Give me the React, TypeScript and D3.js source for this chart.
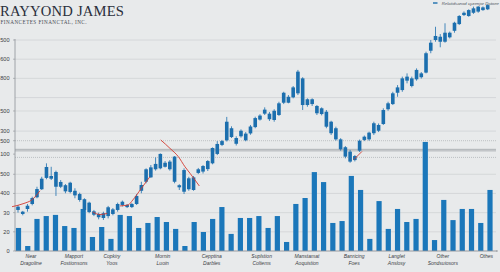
import React from "react";
import * as d3 from "d3";

const W = 500;
const H = 272;

// Candles: [open, high, low, close]
const candleOHLC: [number, number, number, number][] = [
  [214, 240, 200, 231], [205, 209, 186, 193], [219, 245, 205, 236], [245, 283, 238, 276],
  [280, 335, 275, 323], [322, 387, 318, 377], [381, 457, 374, 438], [391, 439, 370, 377],
  [412, 419, 287, 335], [335, 370, 328, 360], [343, 349, 301, 311], [308, 361, 301, 356],
  [314, 327, 275, 290], [297, 304, 257, 266], [270, 275, 205, 214], [252, 257, 197, 203],
  [207, 214, 182, 189], [193, 200, 165, 176], [172, 205, 162, 197], [182, 235, 170, 228],
  [217, 224, 186, 193], [214, 252, 205, 245], [240, 263, 232, 257], [240, 245, 224, 229],
  [229, 250, 224, 245], [245, 297, 240, 287], [314, 361, 301, 344], [361, 431, 353, 426],
  [384, 448, 381, 436], [426, 488, 419, 454], [431, 509, 426, 506], [460, 469, 435, 439],
  [426, 474, 419, 466], [492, 495, 353, 361], [343, 348, 318, 332], [309, 431, 297, 422],
  [379, 387, 314, 322], [318, 391, 314, 384], [407, 433, 401, 426], [414, 448, 404, 443],
  [427, 474, 417, 469], [457, 540, 452, 537], [506, 573, 500, 558], [553, 579, 547, 573],
  [577, 699, 571, 674], [640, 650, 589, 594], [589, 598, 550, 559], [598, 634, 591, 627],
  [612, 620, 572, 577], [613, 657, 606, 649], [646, 700, 640, 693], [685, 713, 680, 706],
  [716, 749, 709, 737], [716, 725, 678, 687], [683, 739, 674, 731], [709, 778, 704, 770],
  [773, 830, 766, 825], [804, 813, 770, 773], [801, 860, 796, 853], [822, 944, 813, 935],
  [900, 906, 735, 761], [791, 796, 752, 761], [766, 796, 756, 791], [756, 761, 709, 718],
  [744, 749, 707, 714], [726, 735, 640, 648], [674, 679, 605, 614], [640, 648, 575, 582],
  [582, 588, 523, 530], [541, 547, 483, 492], [518, 527, 460, 466], [474, 500, 467, 495],
  [523, 581, 516, 575], [579, 602, 573, 596], [582, 622, 575, 617], [614, 674, 605, 666],
  [657, 665, 620, 627], [662, 744, 657, 735], [739, 778, 731, 770], [766, 830, 761, 822],
  [825, 865, 804, 853], [839, 909, 830, 900], [888, 926, 874, 909], [900, 909, 853, 860],
  [895, 952, 888, 944], [926, 933, 899, 906], [930, 1039, 926, 1031], [1044, 1100, 1031, 1086],
  [1100, 1169, 1091, 1121], [1117, 1131, 1062, 1091], [1091, 1187, 1086, 1138], [1138, 1144, 1108, 1114],
  [1148, 1195, 1138, 1190], [1183, 1230, 1178, 1225], [1230, 1249, 1225, 1242], [1225, 1260, 1221, 1256],
  [1242, 1274, 1236, 1265], [1248, 1277, 1242, 1274], [1270, 1275, 1252, 1256], [1260, 1285, 1256, 1282],
];

const volumes = [
  12.0, 2.6, 16.7, 18.2, 18.8, 13.0, 12.0, 21.9, 7.3, 12.5,
  6.3, 18.8, 18.2, 12.0, 14.6, 17.7, 15.1, 11.5, 2.6, 15.1,
  9.9, 16.7, 22.9, 8.9, 17.2, 17.2, 18.2, 12.0, 18.2, 4.7,
  24.5, 27.6, 41.1, 35.9, 14.6, 15.6, 39.1, 31.8, 6.3, 26.0,
  11.5, 21.9, 15.1, 16.7, 56.8, 5.7, 26.6, 16.1, 21.9, 21.9,
  14.6, 31.8,
];

// trend segments: [candle index, price]
const trendA: [number, number][] = [[-1.26, 231], [1.26, 248], [2.89, 266], [4.64, 314]];
const trendB: [number, number][] = [[15.8, 203], [17.3, 190], [18.8, 196]];
const trendC: [number, number][] = [[21.5, 235], [23.2, 240], [24.2, 266], [25.9, 323], [27.8, 387]];
const trendD: [number, number][] = [[30.08, 579], [32.04, 535], [33.79, 492], [35.2, 439], [36.26, 405], [37.31, 370], [38.22, 339]];
const trendE: [number, number][] = [[70.8, 477], [72.5, 519]];

const priceTicks = [1100, 1000, 900, 730, 625, 575, 505, 400, 300, 200, 100, 0];
const priceTickLabels = ["500", "600", "800", "500", "300", "500", "100", "500", "400", "30", "20", "0"];
const solidGrid = [1100, 1000, 900, 800, 730, 625, 400, 300, 200, 100];
const dottedGrid = [575, 488];
const doubleGrid = [530, 522];

const categoryLine1 = ["Near", "Mapport", "Copkiry", "Mornin", "Cepptina", "Suplstion", "Manstamat", "Banricing", "Langlet", "Other", "Othes"];
const categoryLine2 = ["Dragoline", "Fostionsons", "Yoos", "Luoin", "Darbles", "Coltems", "Aoquistion", "Foes", "Anslosy", "Sondsuiosors", ""];
const categoryAt = [1.35, 6.0, 10.1, 15.6, 20.9, 26.3, 31.2, 36.3, 40.9, 45.9, 50.6];

const title = "RAYYOND JAMES";
const subtitle = "FINANCETES FINANCTAL, INC.";
const legendLabel = "Relatidsanod cyzenjor Datoee";

export default function App() {
  const y = d3.scaleLinear().domain([0, 1100]).range([251, 40]);
  const vol = d3.scaleLinear().domain([0, 50]).range([251, 155]);
  const xc = d3.scaleLinear().domain([0, candleOHLC.length - 1]).range([18, 487.7]);
  const xb = d3.scaleLinear().domain([0, volumes.length - 1]).range([18.5, 490]);

  const line = d3
    .line<[number, number]>()
    .x((d) => xc(d[0]))
    .y((d) => y(d[1]))
    .curve(d3.curveMonotoneX);

  const candleColor = "#1c6fae";
  const barColor = "#1b77ba";
  const gridL = 15;
  const gridR = 496;

  return (
    <svg
      width={W}
      height={H}
      viewBox={`0 0 ${W} ${H}`}
      style={{ position: "absolute", left: 0, top: 0, background: "#e8eaeb" }}
    >
      <rect x={0} y={0} width={W} height={H} fill="#e8eaeb" />

      {/* title */}
      <text x={0} y={16} fontFamily="'Liberation Serif', 'DejaVu Serif', serif" fontSize={14.6} fill="#2a2f3b" letterSpacing={0.2}>
        {title}
      </text>
      <text x={0.5} y={23.6} fontFamily="'Liberation Serif', serif" fontSize={5.2} fill="#4a4e56" letterSpacing={0.45}>
        {subtitle}
      </text>

      {/* legend */}
      <line x1={433} x2={437.5} y1={3} y2={3} stroke={candleColor} strokeWidth={1.4} />
      <text x={499} y={4.6} textAnchor="end" fontFamily="'Liberation Sans', sans-serif" fontStyle="italic" fontSize={4.3} fill="#4e5560">
        {legendLabel}
      </text>

      {/* grid */}
      {solidGrid.map((v, i) => (
        <line key={"g" + i} x1={gridL} x2={gridR} y1={y(v)} y2={y(v)} stroke="#d0d3d6" strokeWidth={0.8} />
      ))}
      {dottedGrid.map((v, i) => (
        <line key={"d" + i} x1={gridL} x2={gridR} y1={y(v)} y2={y(v)} stroke="#a9adb2" strokeWidth={0.7} strokeDasharray="1,1" />
      ))}
      {doubleGrid.map((v, i) => (
        <line key={"dd" + i} x1={gridL} x2={gridR} y1={y(v)} y2={y(v)} stroke="#9ea2a7" strokeWidth={0.8} />
      ))}

      {/* y axis */}
      <line x1={gridL} x2={gridL} y1={y(1100) - 1} y2={y(0)} stroke="#8e9297" strokeWidth={0.8} />
      {priceTicks.map((v, i) => (
        <g key={"t" + i}>
          <line x1={gridL - 2} x2={gridL} y1={y(v)} y2={y(v)} stroke="#8e9297" strokeWidth={0.6} />
          <text
            x={9.6}
            y={y(v)}
            dy="0.35em"
            textAnchor="end"
            fontFamily="'Liberation Sans', Arial, sans-serif"
            fontSize={5.6}
            fill="#3a3e45"
          >
            {priceTickLabels[i]}
          </text>
        </g>
      ))}

      {/* volume bars */}
      {volumes.map((v, i) => (
        <rect key={"b" + i} x={xb(i) - 2.6} width={5.2} y={vol(v)} height={vol(0) - vol(v)} fill={barColor} />
      ))}

      {/* candles */}
      {candleOHLC.map(([o, h, l, c], i) => {
        const top = y(Math.max(o, c));
        const bot = y(Math.min(o, c));
        return (
          <g key={"c" + i}>
            <line x1={xc(i)} x2={xc(i)} y1={y(h)} y2={y(l)} stroke={candleColor} strokeWidth={0.8} />
            <rect x={xc(i) - 1.8} width={3.6} y={top} height={Math.max(1, bot - top)} fill={candleColor} />
          </g>
        );
      })}

      {/* trend lines */}
      {[trendA, trendB, trendC, trendD, trendE].map((seg, i) => (
        <path key={"r" + i} d={line(seg) || ""} fill="none" stroke="#d23a30" strokeWidth={0.9} />
      ))}

      {/* x axis */}
      <line x1={gridL} x2={497} y1={y(0)} y2={y(0)} stroke="#8e9297" strokeWidth={0.9} />
      <line x1={497} x2={497} y1={y(0) - 1} y2={y(0) + 1} stroke="#8e9297" strokeWidth={0.8} />

      {/* category labels */}
      {categoryAt.map((p, i) => (
        <g key={"k" + i} fontFamily="'Liberation Sans', Arial, sans-serif" fontStyle="italic" fontSize={5} fill="#3a3e45" textAnchor="middle">
          <text x={xb(p)} y={258.3}>{categoryLine1[i]}</text>
          <text x={xb(p)} y={264.8}>{categoryLine2[i]}</text>
        </g>
      ))}
    </svg>
  );
}
